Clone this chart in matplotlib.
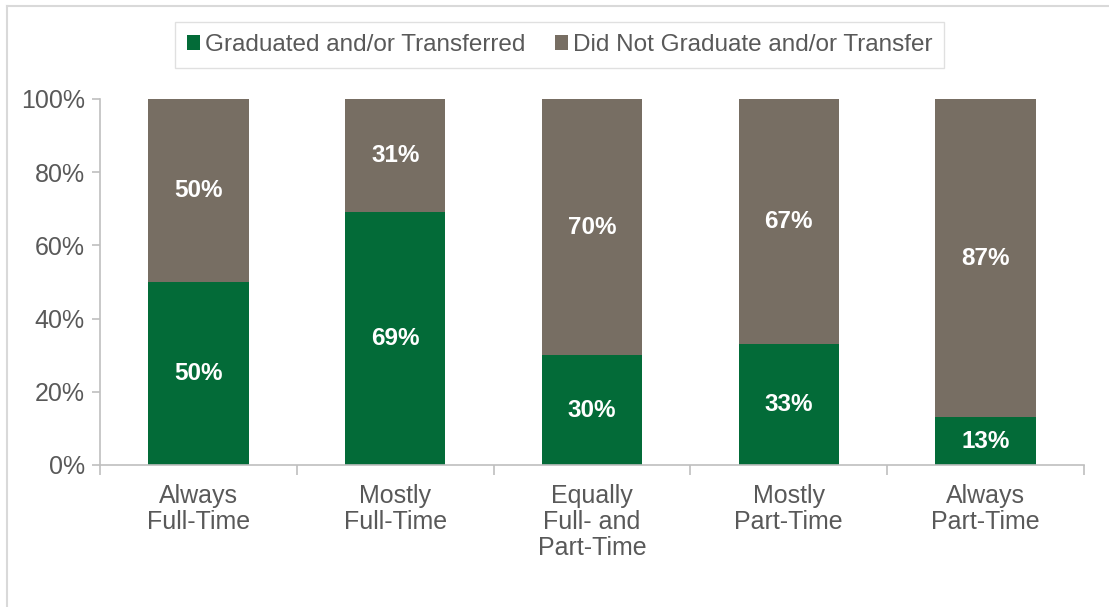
import matplotlib.pyplot as plt
import numpy as np
from matplotlib.patches import Patch
from matplotlib.lines import Line2D

plt.rcParams['font.family'] = ['Liberation Sans', 'DejaVu Sans']

categories = ['Always\nFull-Time', 'Mostly\nFull-Time', 'Equally\nFull- and\nPart-Time',
              'Mostly\nPart-Time', 'Always\nPart-Time']
graduated = [50, 69, 30, 33, 13]
not_graduated = [50, 31, 70, 67, 87]
series_names = ['Graduated and/or Transferred', 'Did Not Graduate and/or Transfer']

GREEN = '#036B38'
GREY = '#776E63'
TEXT = '#595959'
AXIS = '#BFBFBF'

fig = plt.figure(figsize=(11.09, 6.07), dpi=100)
ax = fig.add_axes([100 / 1109, 1 - 465 / 607, 984 / 1109, 366 / 607])

x = np.arange(len(categories))
width = 0.51
ax.bar(x, graduated, width, color=GREEN, label=series_names[0])
ax.bar(x, not_graduated, width, bottom=graduated, color=GREY, label=series_names[1])

for i in range(len(categories)):
    ax.text(x[i], graduated[i] / 2, f'{graduated[i]}%', ha='center', va='center',
            color='white', fontsize=17.5, fontweight='bold')
    ax.text(x[i], graduated[i] + not_graduated[i] / 2, f'{not_graduated[i]}%',
            ha='center', va='center', color='white', fontsize=17.5, fontweight='bold')

ax.set_xlim(-0.5, len(categories) - 0.5)
ax.set_ylim(0, 100)
ax.set_yticks(range(0, 101, 20))
ax.set_yticklabels([f'{v}%' for v in range(0, 101, 20)])
ax.set_xticks(x)
ax.set_xticklabels(categories, linespacing=1.1)
ax.set_xticks(np.arange(-0.5, len(categories)), minor=True)

for s in ['top', 'right']:
    ax.spines[s].set_visible(False)
for s in ['left', 'bottom']:
    ax.spines[s].set_color(AXIS)
    ax.spines[s].set_linewidth(1.2)

ax.tick_params(axis='y', colors=AXIS, labelcolor=TEXT, labelsize=18, length=6, width=1.2, pad=5)
ax.tick_params(axis='x', which='major', length=0, labelcolor=TEXT, labelsize=18, pad=14)
ax.tick_params(axis='x', which='minor', colors=AXIS, length=7, width=1.2)

fig.legend(handles=[Patch(facecolor=GREEN, label=series_names[0]),
                    Patch(facecolor=GREY, label=series_names[1])],
           loc='center', bbox_to_anchor=(559.5 / 1109, 1 - 45 / 607), ncol=2,
           fontsize=17.5, frameon=True, fancybox=False, edgecolor='#D9D9D9',
           labelcolor=TEXT, handlelength=0.55, handleheight=0.55, handletextpad=0.2,
           columnspacing=1.2, borderpad=0.5)

# outer chart frame (left and top edges visible)
fig.add_artist(Line2D([7 / 1109, 7 / 1109], [0, 1 - 6 / 607], transform=fig.transFigure,
                      color='#D9D9D9', linewidth=1.5))
fig.add_artist(Line2D([7 / 1109, 1], [1 - 6 / 607, 1 - 6 / 607], transform=fig.transFigure,
                      color='#D9D9D9', linewidth=1.5))

fig.savefig('out.png', dpi=100)
